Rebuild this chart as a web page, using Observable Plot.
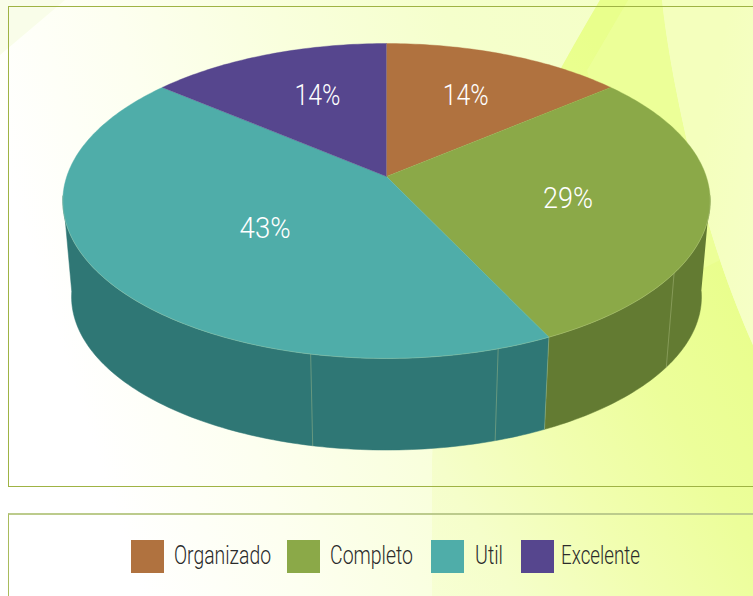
<!DOCTYPE html>
<html><head><meta charset="utf-8">
<script src="https://cdn.jsdelivr.net/npm/d3@7"></script>
<script src="https://cdn.jsdelivr.net/npm/@observablehq/plot@0.6"></script>
<style>
html,body{margin:0;padding:0;width:753px;height:596px;overflow:hidden;background:#fff}
#page{position:relative;width:753px;height:596px;overflow:hidden;
 background:linear-gradient(72deg,#fff 0,#fff 15%,#fdfff0 32%,#f9ffdd 49%,#f5ffcc 67%,#f4ffc4 100%)}
.bg{position:absolute;inset:0}
#b0{clip-path:path("M0 0L65 0L0 55Z");background:#f9fde9}
#b1{clip-path:path("M600 0L662 0C668 60 690 170 720 260C730 290 742 320 753 345L753 596L432 596L432 460C440 300 500 170 600 0Z");
 background:linear-gradient(60deg,#f8ffd8 36%,#f5feca 47%,#f1feb0 59%,#ecfe9a 71%,#e9fe8c 84%)}
#b2{clip-path:path("M628 0L662 0C668 60 690 170 720 260L640 300L587 70Z");background:#ecff99;opacity:.9}
#b3{clip-path:path("M600 0L628 0L587 70L560 70Z");background:#e9ff8c;opacity:.55}
#b4{clip-path:path("M662 0L753 0L753 345C742 320 730 290 720 260C690 170 668 60 662 0Z");
 background:linear-gradient(100deg,#f4ffbd 85%,#f7ffcc 100%)}
#chart{position:absolute;left:0;top:0}
.frame{position:absolute;left:8px;right:-3px;box-sizing:border-box}
#f1{top:6px;height:481px;border:1px solid #9fb344}
#f2{top:513px;height:90px;border:1px solid #a9bb5c;border-top:2px solid #bccb8c}
#legend{position:absolute;left:0;top:540px;width:753px;height:33px;font-family:Roboto,sans-serif;font-weight:300;font-size:26px;color:#2b2b2b}
#legend i{position:absolute;top:0;width:33px;height:33px;display:block}
#legend span{position:absolute;top:0;line-height:31px;white-space:nowrap;transform-origin:0 50%}
</style></head><body>
<div id="page">
 <div class="bg" id="b0"></div><div class="bg" id="b1"></div><div class="bg" id="b2"></div><div class="bg" id="b3"></div><div class="bg" id="b4"></div>
 <div class="frame" id="f1"></div><div class="frame" id="f2"></div>
 <div id="chart"></div>
 <div id="legend"></div>
</div>
<script>
const categories = ["Organizado", "Completo", "Util", "Excelente"];
const values = [14, 28.8, 43.2, 14];
const topColors = ["#b0723f", "#8ba948", "#4fada9", "#56468e"];
const sideColors = ["#7d5029", "#637b32", "#2f7775", "#3a2e63"];
const labelAngle = [25.2, 104.2, 228.3, 337.7];
const labelRadius = [0.634, 0.573, 0.483, 0.62];
const labelWidth = [46, 50, 51, 46];
const sideSeams = [125, 154.1, 162.7, 191.6];
const legendLeft = [131, 287, 431, 521];
const legendText = [174, 330, 475, 561];
const legendWidth = [97, 83, 28, 79];

// perspective view of the disc
const cx = 386, cyTop = 176, fx = 2056, fy = 988, d = 6.43;
const shrink = 0.973, cyBottom = 272.5;
const project = (deg, r = 1, bottom = false) => {
  const t = deg * Math.PI / 180, X = r * Math.sin(t), Z = r * Math.cos(t), w = d + Z;
  const s = bottom ? shrink : 1;
  return {x: cx + s * fx * X / w, y: (bottom ? cyBottom : cyTop) - s * fy * Z / w};
};
const arc = (a, b, r, bottom) => {
  const n = Math.max(2, Math.ceil(Math.abs(b - a))), out = [];
  for (let i = 0; i <= n; ++i) out.push(project(a + (b - a) * i / n, r, bottom));
  return out;
};
const total = d3.sum(values);
let acc = 0;
const slices = values.map((v, i) => {
  const a0 = acc / total * 360; acc += v; const a1 = acc / total * 360;
  return {i, a0, a1, label: Math.round(v) + "%"};
});
const sideStart = 97, sideEnd = 263;
const marks = [];
for (const s of slices) {
  const a = Math.max(s.a0, sideStart), b = Math.min(s.a1, sideEnd);
  if (b > a) marks.push(Plot.line([...arc(a, b, 1, false), ...arc(b, a, 1, true)],
    {x: "x", y: "y", fill: sideColors[s.i], stroke: sideColors[s.i], strokeWidth: 0.5}));
}
for (const deg of sideSeams) {
  marks.push(Plot.line([project(deg, 1, false), project(deg, 1, true)],
    {x: "x", y: "y", stroke: "#b9c98f", strokeOpacity: 0.4, strokeWidth: 1}));
}
for (const s of slices) {
  marks.push(Plot.line([project(0, 0), ...arc(s.a0, s.a1, 1, false)],
    {x: "x", y: "y", fill: topColors[s.i], stroke: topColors[s.i], strokeWidth: 0.4}));
}
marks.push(Plot.line(arc(sideStart, sideEnd, 1, false),
  {x: "x", y: "y", stroke: "#dbe6b0", strokeOpacity: 0.35, strokeWidth: 0.7}));
const labelPoints = slices.map((s, i) => ({...project(labelAngle[i], labelRadius[i]), label: s.label}));
marks.push(Plot.text(labelPoints, {x: "x", y: "y", text: "label", fill: "#fff",
  fontSize: 30, fontWeight: 300, fontFamily: "Roboto, sans-serif"}));

const plot = Plot.plot({
  width: 753, height: 596, margin: 0,
  x: {domain: [0, 753], range: [0, 753], axis: null},
  y: {domain: [0, 596], range: [0, 596], axis: null},
  style: {background: "transparent"},
  marks
});
plot.style.display = "block";
document.getElementById("chart").append(plot);
plot.querySelectorAll("text").forEach((t, i) => {
  t.setAttribute("textLength", labelWidth[i]);
  t.setAttribute("lengthAdjust", "spacingAndGlyphs");
});

const lg = document.getElementById("legend");
categories.forEach((c, i) => {
  const sw = document.createElement("i");
  sw.style.left = legendLeft[i] + "px"; sw.style.background = topColors[i];
  const t = document.createElement("span");
  t.style.left = legendText[i] + "px"; t.textContent = c;
  lg.append(sw, t);
  t.style.transform = `scaleX(${legendWidth[i] / t.getBoundingClientRect().width})`;
});
</script>
</body></html>
